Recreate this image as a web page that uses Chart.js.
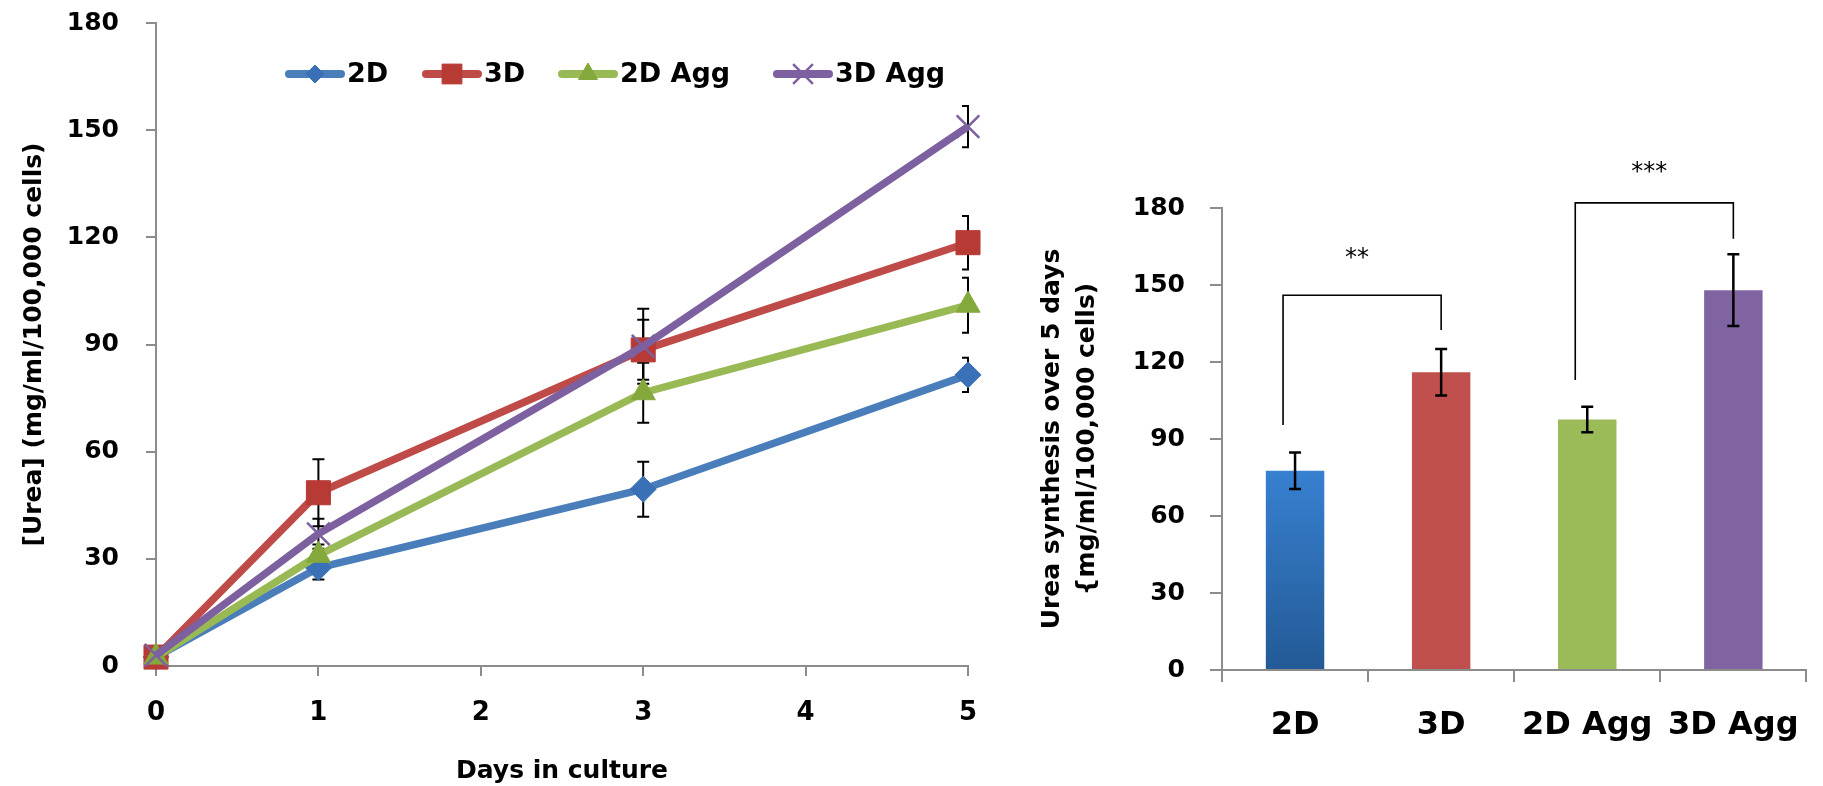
<!DOCTYPE html>
<html lang="en">
<head>
<meta charset="UTF-8">
<title>Urea synthesis</title>
<script src="https://cdn.jsdelivr.net/npm/chart.js"></script>
<style>
    html, body { margin: 0; padding: 0; background: #fff; }
    body { width: 1823px; height: 786px; position: relative; overflow: hidden; }
    .panel { position: absolute; top: 0; height: 786px; }
    #left { left: 0; width: 1000px; }
    #right { left: 1000px; width: 823px; }
</style>
</head>
<body>
<div class="panel" id="left"><canvas id="lineChart"></canvas></div>
<div class="panel" id="right"><canvas id="barChart"></canvas></div>
<script>
// Urea per day in culture
const days = [0, 1, 3, 5];
const seriesNames = ['2D', '3D', '2D Agg', '3D Agg'];
const urea2D = [2.5, 27.5, 49.5, 81.5];
const urea3D = [2.5, 48.5, 88.5, 118.5];
const urea2DAgg = [2.5, 31, 76.5, 101];
const urea3DAgg = [3, 37, 89.5, 151];
const sd2D = [0.5, 3.3, 7.7, 4.8];
const sd3D = [0.5, 9.4, 8.4, 7.5];
const sd2DAgg = [0.5, 3, 8.4, 7.7];
const sd3DAgg = [0.5, 4.2, 10.5, 5.8];

// Urea synthesis over 5 days
const barLabels = ['2D', '3D', '2D Agg', '3D Agg'];
const barValues = [77.6, 116, 97.6, 148];
const barSD = [7.1, 9.1, 5, 14];

// significance brackets (bar index pairs, heights in data units)
const bracketPairs = [[0, 1], [2, 3]];
const bracketTops = [146, 182];
const bracketLegEnds = [[95.5, 132.5], [113, 168]];
const bracketStars = ['**', '***'];
const bracketStarY = [162.5, 196];

// styling
const lineColors = ['#4a7ebb', '#be4b48', '#98b954', '#7d60a0'];
const markerColors = ['#3a70b5', '#b73a35', '#85a83d', '#7d60a0'];
const markerStyles = ['rectRot', 'rect', 'triangle', 'crossRot'];
const markerSizes = [13, 17, 14, 16];
const legendSizes = [9, 14, 11, 14];
const legendX = [285, 422, 558, 773];
const barColors = ['#3780d0', '#c0504d', '#9bbb59', '#8064a2'];
const axisColor = '#8c8c8c';

Chart.defaults.font.family = "'DejaVu Sans', sans-serif";
Chart.defaults.color = '#000';

const seriesValues = [urea2D, urea3D, urea2DAgg, urea3DAgg];
const seriesSD = [sd2D, sd3D, sd2DAgg, sd3DAgg];

const lineErrorBars = {
    id: 'lineErrorBars',
    beforeDatasetsDraw(chart) {
        const {ctx, chartArea, scales: {x, y}} = chart;
        ctx.save();
        ctx.beginPath();
        ctx.rect(chartArea.left - 20, chartArea.top - 20, chartArea.right - chartArea.left + 21, chartArea.bottom - chartArea.top + 40);
        ctx.clip();
        ctx.strokeStyle = '#000';
        ctx.lineWidth = 2;
        chart.data.datasets.forEach(ds => {
            ds.sd.forEach((e, i) => {
                const px = x.getPixelForValue(ds.data[i].x);
                const top = y.getPixelForValue(ds.data[i].y + e);
                const bot = y.getPixelForValue(ds.data[i].y - e);
                ctx.beginPath();
                ctx.moveTo(px, top); ctx.lineTo(px, bot);
                ctx.moveTo(px - 6, top); ctx.lineTo(px + 6, top);
                ctx.moveTo(px - 6, bot); ctx.lineTo(px + 6, bot);
                ctx.stroke();
            });
        });
        ctx.restore();
    }
};

const lineLegend = {
    id: 'lineLegend',
    afterDraw(chart) {
        const ctx = chart.ctx;
        const y = 74;
        ctx.save();
        ctx.font = 'bold 27px "DejaVu Sans"';
        ctx.textBaseline = 'middle';
        chart.data.datasets.forEach((ds, i) => {
            const x = legendX[i];
            ctx.strokeStyle = ds.borderColor;
            ctx.lineWidth = 8;
            ctx.lineCap = 'round';
            ctx.beginPath();
            ctx.moveTo(x + 4, y);
            ctx.lineTo(x + 56, y);
            ctx.stroke();
            if (Chart.helpers && Chart.helpers.drawPoint) {
                ctx.fillStyle = ds.pointBackgroundColor;
                ctx.strokeStyle = ds.pointBorderColor;
                ctx.lineWidth = ds.pointBorderWidth;
                ctx.lineCap = 'butt';
                Chart.helpers.drawPoint(ctx, {pointStyle: ds.pointStyle, radius: legendSizes[i], borderWidth: ds.pointBorderWidth, rotation: 0}, x + 30, y);
            }
            ctx.fillStyle = '#000';
            ctx.fillText(ds.label, x + 62, y + 1);
        });
        ctx.restore();
    }
};

new Chart(document.getElementById('lineChart'), {
    type: 'line',
    data: {
        datasets: seriesNames.map((name, i) => ({
            label: name,
            data: days.map((d, j) => ({x: d, y: seriesValues[i][j]})),
            sd: seriesSD[i],
            borderColor: lineColors[i],
            borderWidth: 7.5,
            pointStyle: markerStyles[i],
            pointRadius: markerSizes[i],
            pointBackgroundColor: markerColors[i],
            pointBorderColor: markerColors[i],
            pointBorderWidth: i === 3 ? 2.5 : 1,
            tension: 0,
            clip: false,
            order: 4 - i
        }))
    },
    options: {
        responsive: true,
        maintainAspectRatio: false,
        animation: false,
        layout: {autoPadding: false, padding: {top: 23, right: 32, left: 0, bottom: 0}},
        plugins: {legend: {display: false}, tooltip: {enabled: false}},
        scales: {
            x: {
                type: 'linear',
                min: 0,
                max: 5,
                afterFit: s => { s.height = 120; },
                ticks: {stepSize: 1, padding: 22, font: {size: 26, weight: 'bold'}},
                grid: {drawOnChartArea: false, tickLength: 10, color: axisColor, lineWidth: 2},
                border: {color: axisColor, width: 2},
                title: {display: true, text: 'Days in culture', font: {size: 25, weight: 'bold'}, padding: {top: 0, bottom: 0}}
            },
            y: {
                min: 0,
                max: 180,
                afterFit: s => { s.width = 156; s.paddingTop = 0; s.paddingBottom = 0; },
                ticks: {stepSize: 30, padding: 27, font: {size: 25, weight: 'bold'}},
                grid: {drawOnChartArea: false, tickLength: 10, color: axisColor, lineWidth: 2},
                border: {color: axisColor, width: 2},
                title: {display: true, text: '[Urea] (mg/ml/100,000 cells)', font: {size: 25, weight: 'bold'}, padding: {top: 19, bottom: 0}}
            }
        }
    },
    plugins: [lineErrorBars, lineLegend]
});

const barExtras = {
    id: 'barExtras',
    afterDraw(chart) {
        const {ctx, scales: {y}} = chart;
        const bars = chart.getDatasetMeta(0).data;
        ctx.save();
        // error bars
        ctx.strokeStyle = '#000';
        ctx.lineWidth = 2.5;
        barSD.forEach((e, i) => {
            const px = bars[i].x;
            const top = y.getPixelForValue(barValues[i] + e);
            const bot = y.getPixelForValue(barValues[i] - e);
            ctx.beginPath();
            ctx.moveTo(px, top); ctx.lineTo(px, bot);
            ctx.moveTo(px - 6, top); ctx.lineTo(px + 6, top);
            ctx.moveTo(px - 6, bot); ctx.lineTo(px + 6, bot);
            ctx.stroke();
        });
        // significance brackets
        ctx.lineWidth = 1.6;
        ctx.font = '24px "DejaVu Sans"';
        ctx.textAlign = 'center';
        ctx.textBaseline = 'alphabetic';
        ctx.fillStyle = '#000';
        bracketPairs.forEach(([a, b], k) => {
            const xl = bars[a].x - 12;
            const xr = bars[b].x;
            const yt = y.getPixelForValue(bracketTops[k]);
            ctx.beginPath();
            ctx.moveTo(xl, y.getPixelForValue(bracketLegEnds[k][0]));
            ctx.lineTo(xl, yt);
            ctx.lineTo(xr, yt);
            ctx.lineTo(xr, y.getPixelForValue(bracketLegEnds[k][1]));
            ctx.stroke();
            ctx.fillText(bracketStars[k], (xl + xr) / 2 - 5, y.getPixelForValue(bracketStarY[k]) + 12);
        });
        ctx.restore();
    }
};

new Chart(document.getElementById('barChart'), {
    type: 'bar',
    data: {
        labels: barLabels,
        datasets: [{
            data: barValues,
            backgroundColor: c => {
                const i = c.dataIndex;
                const area = c.chart.chartArea;
                if (i !== 0 || !area) return barColors[i];
                const top = c.chart.scales.y.getPixelForValue(barValues[0]);
                const g = c.chart.ctx.createLinearGradient(0, top, 0, area.bottom);
                g.addColorStop(0, '#3780d0');
                g.addColorStop(1, '#235a96');
                return g;
            },
            borderWidth: 0,
            barPercentage: 0.4,
            categoryPercentage: 1
        }]
    },
    options: {
        responsive: true,
        maintainAspectRatio: false,
        animation: false,
        layout: {padding: {top: 208, right: 3, left: 0, bottom: 0}},
        plugins: {legend: {display: false}, tooltip: {enabled: false}},
        scales: {
            x: {
                afterFit: s => { s.height = 116; },
                ticks: {padding: 24, font: {size: 32, weight: 'bold'}},
                grid: {drawOnChartArea: false, tickLength: 12, color: axisColor, lineWidth: 2},
                border: {color: axisColor, width: 2}
            },
            y: {
                min: 0,
                max: 180,
                afterFit: s => { s.width = 222; },
                ticks: {stepSize: 30, padding: 25, font: {size: 25, weight: 'bold'}},
                grid: {drawOnChartArea: false, tickLength: 12, color: axisColor, lineWidth: 2},
                border: {color: axisColor, width: 2},
                title: {
                    display: true,
                    text: ['Urea synthesis over 5 days', '{mg/ml/100,000 cells)'],
                    font: {size: 25, weight: 'bold', lineHeight: 1.4},
                    padding: {top: 35, bottom: 0}
                }
            }
        }
    },
    plugins: [barExtras]
});
</script>
</body>
</html>
